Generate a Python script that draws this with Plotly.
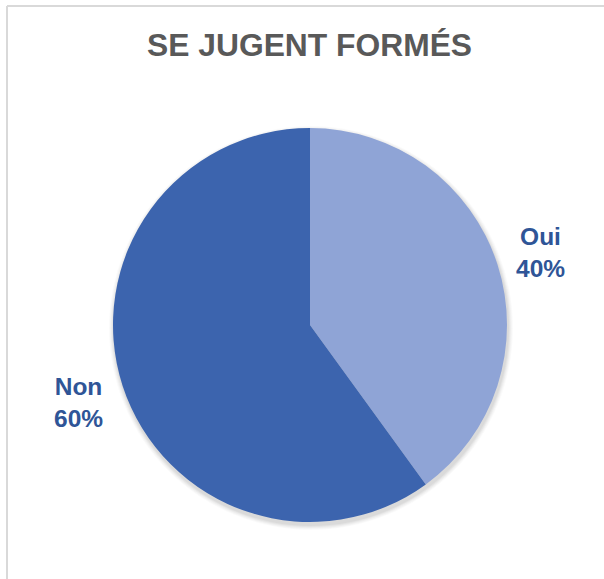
import plotly.graph_objects as go

title = "SE JUGENT FORMÉS"
categories = ["Oui", "Non"]
values = [40, 60]
colors = ["#8FA4D6", "#3C64AE"]

W, H = 604, 579
cx, cy, r = 310, 325, 197

fig = go.Figure(go.Pie(
    labels=categories,
    values=values,
    sort=False,
    direction="clockwise",
    rotation=0,
    marker=dict(colors=colors, line=dict(width=0)),
    textinfo="none",
    hoverinfo="label+percent",
    showlegend=False,
    domain=dict(x=[(cx - r) / W, (cx + r) / W], y=[(H - cy - r) / H, (H - cy + r) / H]),
))

# soft shadow behind the pie
for i, a in enumerate([0.035, 0.035, 0.03, 0.025, 0.02]):
    rr = r + 1 + i
    sx, sy = cx + 1, cy + 3
    fig.add_shape(type="circle", xref="paper", yref="paper", layer="below",
                  x0=(sx - rr) / W, x1=(sx + rr) / W, y0=1 - (sy + rr) / H, y1=1 - (sy - rr) / H,
                  fillcolor=f"rgba(0,0,0,{a})", line=dict(width=0))

total = sum(values)
label_pos = {"Oui": (540.5, 252), "Non": (78, 402)}
for cat, v in zip(categories, values):
    x, y = label_pos[cat]
    fig.add_annotation(
        x=x / W, y=1 - y / H, xref="paper", yref="paper",
        text=f"<b>{cat}<br>{round(100 * v / total)}%</b>",
        showarrow=False, xanchor="center", yanchor="middle",
        font=dict(family="Liberation Sans, Arial, sans-serif", size=24.5, color="#2F5597"),
        align="center",
    )

fig.add_annotation(
    x=309 / W, y=1 - 45 / H, xref="paper", yref="paper",
    text=f"<b>{title}</b>", showarrow=False, xanchor="center", yanchor="middle",
    font=dict(family="Liberation Sans, Arial, sans-serif", size=31.8, color="#595959"),
)

# chart border
fig.add_shape(type="line", xref="paper", yref="paper", x0=7 / W, x1=1, y0=1 - 6 / H, y1=1 - 6 / H,
              line=dict(color="#D9D9D9", width=2))
fig.add_shape(type="line", xref="paper", yref="paper", x0=7 / W, x1=7 / W, y0=0, y1=1 - 6 / H,
              line=dict(color="#D9D9D9", width=2))

fig.update_layout(
    width=W, height=H,
    margin=dict(l=0, r=0, t=0, b=0),
    paper_bgcolor="white", plot_bgcolor="white",
)

fig.write_html("out.html", config={"displayModeBar": False},
               post_script="document.body.style.margin='0';document.body.style.overflow='hidden';")
